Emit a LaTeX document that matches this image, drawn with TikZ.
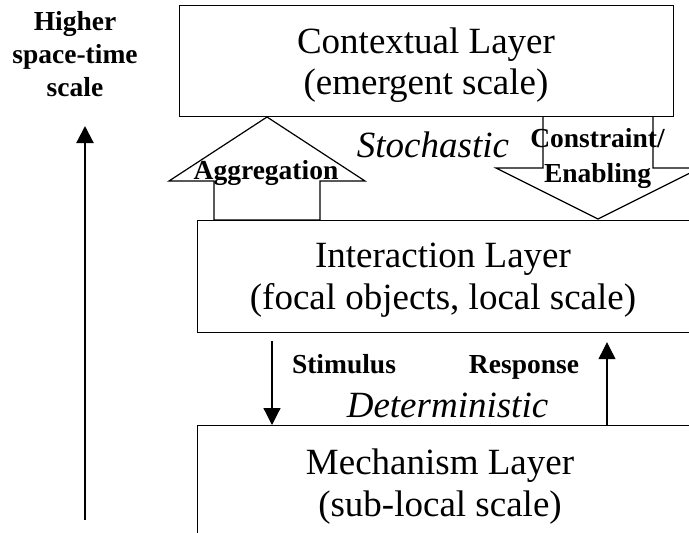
\documentclass[tikz,border=0pt]{standalone}
\usepackage{fontspec}
\setmainfont{Liberation Serif}
\usetikzlibrary{arrows.meta,positioning}

\begin{document}
\begin{tikzpicture}[x=1pt,y=-1pt,line width=1.2pt,
	layerbox/.style={draw, rectangle, inner sep=0pt, anchor=north west},
	layertext/.style={align=center, inner sep=0pt, anchor=north, font=\fontsize{37}{41.5}\selectfont},
	tag/.style={inner sep=0pt, anchor=base, font=\fontsize{27.5}{33}\selectfont\bfseries},
	mode/.style={inner sep=0pt, anchor=base, font=\fontsize{37}{41.5}\selectfont\itshape},
	flow/.style={-{Triangle[length=17pt,width=17pt]}}]
\useasboundingbox (0,0) rectangle (689,533);
\clip (0,0) rectangle (689,533);

% the three layers
\node[layerbox, minimum width=494pt, minimum height=111pt] (ctxbox) at (179,5) {};
\node[layerbox, minimum width=500pt, minimum height=112pt] (intbox) at (197,220) {};
\node[layerbox, minimum width=500pt, minimum height=130pt] (mechbox) at (197,425) {};

\node[layertext] (ctxtext) at ([xshift=247pt,yshift=-22pt]ctxbox.north west) {Contextual Layer\\(emergent scale)};
\node[layertext] (inttext) at ([xshift=246pt,yshift=-22.5pt]intbox.north west) {Interaction Layer\\(focal objects, local scale)};
\node[layertext] (mechtext) at ([xshift=243pt,yshift=-23.5pt]mechbox.north west) {Mechanism Layer\\(sub-local scale)};

% block arrows
\draw (267,117) -- (365,181) -- (320,181) -- (320,220) -- (214,220) -- (214,181) -- (169,181) -- cycle;
\draw (543,116) -- (543,168) -- (496,168) -- (598,219) -- (700,168) -- (653,168) -- (653,116);

\node[tag] (agglbl) at (266,179) {Aggregation};
\node[tag, anchor=north, align=center, font=\fontsize{27.5}{35}\selectfont\bfseries] (conlbl) at (597.5,128) {Constraint/\\Enabling};
\node[mode] (stochlbl) at (433,157) {Stochastic};

% stimulus / response
\draw[flow] ([xshift=75pt,yshift=-8pt]intbox.south west) -- ([xshift=75pt]mechbox.north west);
\draw[flow] ([xshift=410pt]mechbox.north west) -- ([xshift=410pt,yshift=-9pt]intbox.south west);
\node[tag] (stimlbl) at (344,373) {Stimulus};
\node[tag] (resplbl) at (524,373) {Response};
\node[mode] (detlbl) at (447.5,417) {Deterministic};

% scale axis
\coordinate (scalebot) at (85,520);
\coordinate (scaletop) at (85,126);
\draw[flow, line width=2.2pt] (scalebot) -- (scaletop);
\node[tag, anchor=north, align=center] (scalelbl) at (75,10.5) {Higher\\space-time\\scale};

\end{tikzpicture}
\end{document}
